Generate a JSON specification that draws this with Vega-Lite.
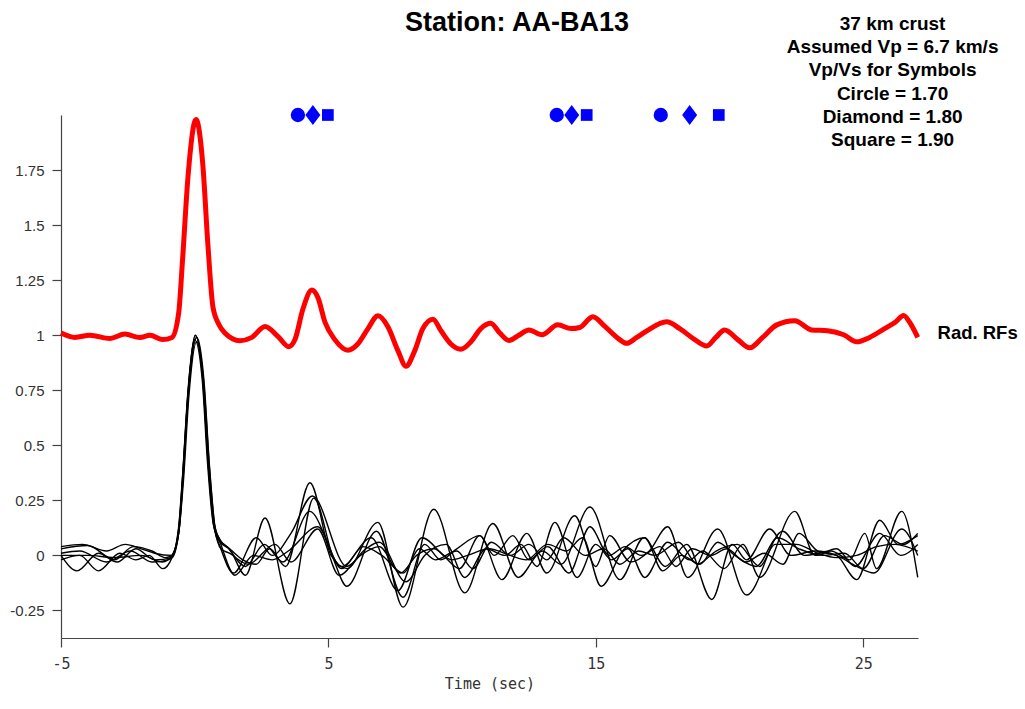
{
  "$schema": "https://vega.github.io/schema/vega-lite/v6.json",
  "width": 857,
  "height": 523,
  "autosize": {"type": "none"},
  "padding": {"left": 61, "top": 115, "right": 107, "bottom": 71},
  "background": "white",
  "config": {"view": {"stroke": null}},
  "datasets": {
    "red": [
      {"t": -5, "v": 1.01}, {"t": -4.48, "v": 0.99}, {"t": -3.92, "v": 1.0}, {"t": -3.17, "v": 0.985},
      {"t": -2.61, "v": 1.005}, {"t": -2.05, "v": 0.99}, {"t": -1.67, "v": 1.0}, {"t": -1.19, "v": 0.98},
      {"t": -0.85, "v": 0.99}, {"t": -0.6, "v": 1.1}, {"t": -0.45, "v": 1.35}, {"t": -0.25, "v": 1.72},
      {"t": 0.05, "v": 1.98}, {"t": 0.3, "v": 1.78}, {"t": 0.5, "v": 1.4}, {"t": 0.68, "v": 1.13},
      {"t": 0.9, "v": 1.05}, {"t": 1.13, "v": 1.01}, {"t": 1.69, "v": 0.975}, {"t": 2.14, "v": 0.99},
      {"t": 2.63, "v": 1.04}, {"t": 3.11, "v": 0.995}, {"t": 3.52, "v": 0.948}, {"t": 3.75, "v": 0.98},
      {"t": 4.05, "v": 1.12}, {"t": 4.38, "v": 1.205}, {"t": 4.61, "v": 1.17}, {"t": 4.87, "v": 1.06},
      {"t": 5.24, "v": 0.98}, {"t": 5.73, "v": 0.932}, {"t": 6.1, "v": 0.96}, {"t": 6.48, "v": 1.03},
      {"t": 6.85, "v": 1.088}, {"t": 7.22, "v": 1.04}, {"t": 7.6, "v": 0.93}, {"t": 7.9, "v": 0.859},
      {"t": 8.23, "v": 0.93}, {"t": 8.53, "v": 1.03}, {"t": 8.91, "v": 1.073}, {"t": 9.21, "v": 1.02},
      {"t": 9.58, "v": 0.96}, {"t": 9.95, "v": 0.936}, {"t": 10.33, "v": 0.97}, {"t": 10.7, "v": 1.03},
      {"t": 11.07, "v": 1.054}, {"t": 11.41, "v": 1.01}, {"t": 11.75, "v": 0.976}, {"t": 12.12, "v": 1.0},
      {"t": 12.5, "v": 1.024}, {"t": 12.98, "v": 1.002}, {"t": 13.58, "v": 1.047}, {"t": 14.07, "v": 1.03},
      {"t": 14.4, "v": 1.035}, {"t": 14.89, "v": 1.084}, {"t": 15.34, "v": 1.04}, {"t": 15.79, "v": 0.99},
      {"t": 16.16, "v": 0.963}, {"t": 16.53, "v": 0.99}, {"t": 16.91, "v": 1.02}, {"t": 17.65, "v": 1.061},
      {"t": 18.14, "v": 1.03}, {"t": 18.7, "v": 0.98}, {"t": 19.15, "v": 0.951}, {"t": 19.49, "v": 0.99},
      {"t": 19.82, "v": 1.024}, {"t": 20.31, "v": 0.98}, {"t": 20.76, "v": 0.943}, {"t": 21.24, "v": 0.99},
      {"t": 21.77, "v": 1.047}, {"t": 22.44, "v": 1.066}, {"t": 23.07, "v": 1.024}, {"t": 23.67, "v": 1.02},
      {"t": 24.27, "v": 1.002}, {"t": 24.76, "v": 0.97}, {"t": 25.24, "v": 0.99}, {"t": 25.8, "v": 1.03},
      {"t": 26.21, "v": 1.06}, {"t": 26.51, "v": 1.09}, {"t": 26.78, "v": 1.05}, {"t": 27.04, "v": 0.99}
    ],
    "black": [
      {"trace": "A", "t": -5, "v": 0.04}, {"trace": "A", "t": -4.2, "v": 0.05}, {"trace": "A", "t": -3.3, "v": 0.02},
      {"trace": "A", "t": -2.6, "v": 0.05}, {"trace": "A", "t": -2.0, "v": 0.03}, {"trace": "A", "t": -1.5, "v": 0.01},
      {"trace": "A", "t": -0.85, "v": 0.0}, {"trace": "A", "t": -0.6, "v": 0.12}, {"trace": "A", "t": -0.45, "v": 0.36},
      {"trace": "A", "t": -0.25, "v": 0.74}, {"trace": "A", "t": 0.03, "v": 1.0}, {"trace": "A", "t": 0.3, "v": 0.8},
      {"trace": "A", "t": 0.5, "v": 0.42}, {"trace": "A", "t": 0.72, "v": 0.13}, {"trace": "A", "t": 0.95, "v": 0.06},
      {"trace": "A", "t": 1.3, "v": 0.03}, {"trace": "A", "t": 1.8, "v": -0.02}, {"trace": "A", "t": 2.3, "v": -0.04},
      {"trace": "A", "t": 2.8, "v": 0.03}, {"trace": "A", "t": 3.4, "v": -0.05}, {"trace": "A", "t": 4.31, "v": 0.33},
      {"trace": "A", "t": 5.1, "v": 0.0}, {"trace": "A", "t": 5.7, "v": -0.06}, {"trace": "A", "t": 6.85, "v": 0.15},
      {"trace": "A", "t": 7.79, "v": -0.235}, {"trace": "A", "t": 8.94, "v": 0.21}, {"trace": "A", "t": 10.1, "v": -0.17},
      {"trace": "A", "t": 11.15, "v": 0.145}, {"trace": "A", "t": 12.1, "v": -0.1}, {"trace": "A", "t": 13.0, "v": 0.02},
      {"trace": "A", "t": 13.7, "v": -0.04}, {"trace": "A", "t": 14.78, "v": 0.22}, {"trace": "A", "t": 15.9, "v": -0.11},
      {"trace": "A", "t": 16.8, "v": 0.08}, {"trace": "A", "t": 17.6, "v": -0.05}, {"trace": "A", "t": 18.4, "v": 0.05},
      {"trace": "A", "t": 19.34, "v": -0.2}, {"trace": "A", "t": 20.1, "v": 0.05}, {"trace": "A", "t": 20.64, "v": -0.02},
      {"trace": "A", "t": 21.5, "v": 0.12}, {"trace": "A", "t": 22.3, "v": 0.0}, {"trace": "A", "t": 23.2, "v": 0.02},
      {"trace": "A", "t": 24.0, "v": 0.0}, {"trace": "A", "t": 24.76, "v": -0.11}, {"trace": "A", "t": 25.62, "v": 0.16},
      {"trace": "A", "t": 26.3, "v": 0.05}, {"trace": "A", "t": 27.04, "v": 0.09},

      {"trace": "B", "t": -5, "v": 0.0}, {"trace": "B", "t": -4.4, "v": -0.07}, {"trace": "B", "t": -3.6, "v": 0.01},
      {"trace": "B", "t": -2.9, "v": -0.03}, {"trace": "B", "t": -2.2, "v": 0.03}, {"trace": "B", "t": -1.5, "v": -0.02},
      {"trace": "B", "t": -0.85, "v": -0.01}, {"trace": "B", "t": -0.6, "v": 0.1}, {"trace": "B", "t": -0.45, "v": 0.33},
      {"trace": "B", "t": -0.25, "v": 0.72}, {"trace": "B", "t": 0.0, "v": 0.98}, {"trace": "B", "t": 0.28, "v": 0.8},
      {"trace": "B", "t": 0.48, "v": 0.42}, {"trace": "B", "t": 0.7, "v": 0.14}, {"trace": "B", "t": 0.95, "v": 0.07},
      {"trace": "B", "t": 1.3, "v": 0.03}, {"trace": "B", "t": 1.9, "v": -0.09}, {"trace": "B", "t": 2.63, "v": 0.17},
      {"trace": "B", "t": 3.56, "v": -0.22}, {"trace": "B", "t": 4.45, "v": 0.26}, {"trace": "B", "t": 5.2, "v": -0.02},
      {"trace": "B", "t": 5.69, "v": -0.14}, {"trace": "B", "t": 6.8, "v": 0.11}, {"trace": "B", "t": 7.79, "v": -0.19},
      {"trace": "B", "t": 8.6, "v": 0.05}, {"trace": "B", "t": 9.2, "v": -0.02}, {"trace": "B", "t": 9.8, "v": 0.03},
      {"trace": "B", "t": 10.66, "v": 0.09}, {"trace": "B", "t": 11.49, "v": -0.11}, {"trace": "B", "t": 12.42, "v": 0.1},
      {"trace": "B", "t": 13.17, "v": -0.08}, {"trace": "B", "t": 14.21, "v": 0.18}, {"trace": "B", "t": 15.0, "v": -0.05},
      {"trace": "B", "t": 15.52, "v": 0.09}, {"trace": "B", "t": 16.3, "v": -0.03}, {"trace": "B", "t": 17.0, "v": 0.02},
      {"trace": "B", "t": 17.69, "v": 0.13}, {"trace": "B", "t": 18.44, "v": -0.1}, {"trace": "B", "t": 19.56, "v": 0.12},
      {"trace": "B", "t": 20.64, "v": -0.18}, {"trace": "B", "t": 21.99, "v": 0.11}, {"trace": "B", "t": 22.8, "v": 0.0},
      {"trace": "B", "t": 23.8, "v": 0.02}, {"trace": "B", "t": 24.5, "v": -0.02}, {"trace": "B", "t": 25.06, "v": 0.1},
      {"trace": "B", "t": 25.5, "v": -0.06}, {"trace": "B", "t": 26.44, "v": 0.2}, {"trace": "B", "t": 27.04, "v": -0.1},

      {"trace": "C", "t": -5, "v": -0.02}, {"trace": "C", "t": -4.3, "v": 0.0}, {"trace": "C", "t": -3.6, "v": -0.07},
      {"trace": "C", "t": -2.8, "v": 0.01}, {"trace": "C", "t": -2.2, "v": -0.02}, {"trace": "C", "t": -1.7, "v": 0.0},
      {"trace": "C", "t": -1.19, "v": -0.06}, {"trace": "C", "t": -0.85, "v": -0.01}, {"trace": "C", "t": -0.6, "v": 0.11},
      {"trace": "C", "t": -0.45, "v": 0.35}, {"trace": "C", "t": -0.25, "v": 0.73}, {"trace": "C", "t": 0.06, "v": 0.99},
      {"trace": "C", "t": 0.32, "v": 0.79}, {"trace": "C", "t": 0.52, "v": 0.41}, {"trace": "C", "t": 0.74, "v": 0.12},
      {"trace": "C", "t": 0.95, "v": 0.04}, {"trace": "C", "t": 1.45, "v": -0.08}, {"trace": "C", "t": 2.3, "v": 0.08},
      {"trace": "C", "t": 2.9, "v": 0.0}, {"trace": "C", "t": 3.6, "v": 0.1}, {"trace": "C", "t": 4.4, "v": 0.27},
      {"trace": "C", "t": 5.69, "v": -0.05}, {"trace": "C", "t": 6.4, "v": 0.03}, {"trace": "C", "t": 6.9, "v": 0.06},
      {"trace": "C", "t": 7.9, "v": -0.12}, {"trace": "C", "t": 8.6, "v": 0.0}, {"trace": "C", "t": 9.4, "v": 0.05},
      {"trace": "C", "t": 10.1, "v": -0.1}, {"trace": "C", "t": 10.9, "v": 0.03}, {"trace": "C", "t": 11.6, "v": 0.0},
      {"trace": "C", "t": 12.2, "v": 0.05}, {"trace": "C", "t": 12.8, "v": -0.05}, {"trace": "C", "t": 13.47, "v": 0.15},
      {"trace": "C", "t": 14.3, "v": -0.1}, {"trace": "C", "t": 15.0, "v": 0.05}, {"trace": "C", "t": 15.6, "v": -0.02},
      {"trace": "C", "t": 16.2, "v": 0.03}, {"trace": "C", "t": 16.83, "v": -0.1}, {"trace": "C", "t": 17.69, "v": 0.06},
      {"trace": "C", "t": 18.5, "v": -0.02}, {"trace": "C", "t": 19.0, "v": 0.02}, {"trace": "C", "t": 19.8, "v": -0.06},
      {"trace": "C", "t": 20.5, "v": 0.05}, {"trace": "C", "t": 21.13, "v": -0.1}, {"trace": "C", "t": 22.44, "v": 0.2},
      {"trace": "C", "t": 23.2, "v": 0.0}, {"trace": "C", "t": 24.0, "v": 0.03}, {"trace": "C", "t": 24.7, "v": -0.05},
      {"trace": "C", "t": 25.62, "v": 0.1}, {"trace": "C", "t": 26.4, "v": 0.0}, {"trace": "C", "t": 27.04, "v": 0.05},

      {"trace": "D", "t": -5, "v": 0.03}, {"trace": "D", "t": -4.0, "v": 0.045}, {"trace": "D", "t": -3.0, "v": -0.02},
      {"trace": "D", "t": -2.3, "v": 0.04}, {"trace": "D", "t": -1.6, "v": 0.02}, {"trace": "D", "t": -1.1, "v": -0.01},
      {"trace": "D", "t": -0.85, "v": 0.0}, {"trace": "D", "t": -0.6, "v": 0.13}, {"trace": "D", "t": -0.45, "v": 0.37},
      {"trace": "D", "t": -0.25, "v": 0.75}, {"trace": "D", "t": 0.02, "v": 1.0}, {"trace": "D", "t": 0.3, "v": 0.81},
      {"trace": "D", "t": 0.5, "v": 0.43}, {"trace": "D", "t": 0.72, "v": 0.15}, {"trace": "D", "t": 0.95, "v": 0.07},
      {"trace": "D", "t": 1.2, "v": 0.04}, {"trace": "D", "t": 1.9, "v": -0.05}, {"trace": "D", "t": 2.6, "v": 0.05},
      {"trace": "D", "t": 3.3, "v": -0.03}, {"trace": "D", "t": 4.3, "v": 0.2}, {"trace": "D", "t": 5.5, "v": -0.05},
      {"trace": "D", "t": 6.6, "v": 0.08}, {"trace": "D", "t": 7.6, "v": -0.16}, {"trace": "D", "t": 8.5, "v": 0.08},
      {"trace": "D", "t": 9.3, "v": 0.0}, {"trace": "D", "t": 9.9, "v": -0.06}, {"trace": "D", "t": 10.66, "v": 0.09},
      {"trace": "D", "t": 11.2, "v": 0.0}, {"trace": "D", "t": 11.9, "v": 0.09}, {"trace": "D", "t": 12.5, "v": -0.02},
      {"trace": "D", "t": 13.2, "v": 0.04}, {"trace": "D", "t": 14.0, "v": -0.08}, {"trace": "D", "t": 14.78, "v": 0.13},
      {"trace": "D", "t": 15.5, "v": 0.0}, {"trace": "D", "t": 16.1, "v": 0.04}, {"trace": "D", "t": 16.7, "v": 0.0},
      {"trace": "D", "t": 17.4, "v": 0.04}, {"trace": "D", "t": 18.0, "v": -0.05}, {"trace": "D", "t": 18.6, "v": 0.03},
      {"trace": "D", "t": 19.3, "v": 0.0}, {"trace": "D", "t": 19.9, "v": 0.03}, {"trace": "D", "t": 20.6, "v": -0.03},
      {"trace": "D", "t": 21.3, "v": 0.01}, {"trace": "D", "t": 22.0, "v": -0.04}, {"trace": "D", "t": 22.6, "v": 0.1},
      {"trace": "D", "t": 23.3, "v": 0.02}, {"trace": "D", "t": 24.0, "v": 0.0}, {"trace": "D", "t": 24.76, "v": -0.05},
      {"trace": "D", "t": 25.4, "v": -0.08}, {"trace": "D", "t": 26.44, "v": 0.12}, {"trace": "D", "t": 27.04, "v": 0.0},

      {"trace": "E", "t": -5, "v": 0.0}, {"trace": "E", "t": -4.0, "v": 0.0}, {"trace": "E", "t": -3.0, "v": -0.01},
      {"trace": "E", "t": -2.0, "v": 0.0}, {"trace": "E", "t": -1.2, "v": -0.03}, {"trace": "E", "t": -0.85, "v": 0.0},
      {"trace": "E", "t": -0.6, "v": 0.1}, {"trace": "E", "t": -0.42, "v": 0.34}, {"trace": "E", "t": -0.22, "v": 0.72},
      {"trace": "E", "t": 0.07, "v": 0.97}, {"trace": "E", "t": 0.34, "v": 0.78}, {"trace": "E", "t": 0.55, "v": 0.4},
      {"trace": "E", "t": 0.76, "v": 0.12}, {"trace": "E", "t": 0.98, "v": 0.03}, {"trace": "E", "t": 1.3, "v": 0.01},
      {"trace": "E", "t": 2.0, "v": -0.04}, {"trace": "E", "t": 3.0, "v": 0.05}, {"trace": "E", "t": 3.6, "v": -0.03},
      {"trace": "E", "t": 4.6, "v": 0.12}, {"trace": "E", "t": 5.4, "v": -0.09}, {"trace": "E", "t": 6.2, "v": 0.0},
      {"trace": "E", "t": 6.9, "v": 0.04}, {"trace": "E", "t": 7.7, "v": -0.08}, {"trace": "E", "t": 8.3, "v": 0.0},
      {"trace": "E", "t": 8.94, "v": 0.03}, {"trace": "E", "t": 9.6, "v": -0.02}, {"trace": "E", "t": 10.2, "v": 0.0},
      {"trace": "E", "t": 11.0, "v": 0.03}, {"trace": "E", "t": 11.8, "v": 0.0}, {"trace": "E", "t": 12.4, "v": -0.02},
      {"trace": "E", "t": 13.2, "v": 0.05}, {"trace": "E", "t": 13.9, "v": 0.02}, {"trace": "E", "t": 14.5, "v": 0.08},
      {"trace": "E", "t": 15.2, "v": -0.14}, {"trace": "E", "t": 16.0, "v": 0.02}, {"trace": "E", "t": 16.83, "v": 0.08},
      {"trace": "E", "t": 17.5, "v": -0.07}, {"trace": "E", "t": 18.2, "v": 0.0}, {"trace": "E", "t": 18.9, "v": -0.04},
      {"trace": "E", "t": 19.56, "v": 0.06}, {"trace": "E", "t": 20.2, "v": 0.0}, {"trace": "E", "t": 21.0, "v": -0.05},
      {"trace": "E", "t": 21.8, "v": 0.08}, {"trace": "E", "t": 22.6, "v": 0.03}, {"trace": "E", "t": 23.5, "v": 0.0},
      {"trace": "E", "t": 24.3, "v": 0.01}, {"trace": "E", "t": 25.0, "v": -0.06}, {"trace": "E", "t": 25.8, "v": 0.09},
      {"trace": "E", "t": 26.5, "v": 0.05}, {"trace": "E", "t": 27.04, "v": 0.1},

      {"trace": "F", "t": -5, "v": 0.01}, {"trace": "F", "t": -4.3, "v": 0.02}, {"trace": "F", "t": -3.3, "v": -0.03},
      {"trace": "F", "t": -2.4, "v": 0.02}, {"trace": "F", "t": -1.6, "v": -0.03}, {"trace": "F", "t": -1.0, "v": -0.02},
      {"trace": "F", "t": -0.85, "v": -0.01}, {"trace": "F", "t": -0.58, "v": 0.12}, {"trace": "F", "t": -0.43, "v": 0.36},
      {"trace": "F", "t": -0.23, "v": 0.74}, {"trace": "F", "t": 0.08, "v": 0.99}, {"trace": "F", "t": 0.35, "v": 0.79},
      {"trace": "F", "t": 0.55, "v": 0.41}, {"trace": "F", "t": 0.76, "v": 0.13}, {"trace": "F", "t": 0.98, "v": 0.05},
      {"trace": "F", "t": 1.5, "v": -0.09}, {"trace": "F", "t": 2.2, "v": 0.0}, {"trace": "F", "t": 2.9, "v": -0.02},
      {"trace": "F", "t": 3.5, "v": 0.02}, {"trace": "F", "t": 4.6, "v": 0.13}, {"trace": "F", "t": 5.5, "v": -0.06},
      {"trace": "F", "t": 6.3, "v": 0.04}, {"trace": "F", "t": 7.0, "v": 0.0}, {"trace": "F", "t": 7.8, "v": -0.08},
      {"trace": "F", "t": 8.4, "v": 0.03}, {"trace": "F", "t": 9.0, "v": -0.02}, {"trace": "F", "t": 9.8, "v": 0.02},
      {"trace": "F", "t": 10.4, "v": -0.06}, {"trace": "F", "t": 11.1, "v": 0.06}, {"trace": "F", "t": 11.8, "v": 0.0},
      {"trace": "F", "t": 12.5, "v": 0.05}, {"trace": "F", "t": 13.17, "v": -0.02}, {"trace": "F", "t": 13.8, "v": 0.08},
      {"trace": "F", "t": 14.6, "v": 0.0}, {"trace": "F", "t": 15.3, "v": 0.03}, {"trace": "F", "t": 15.9, "v": -0.04},
      {"trace": "F", "t": 16.6, "v": 0.02}, {"trace": "F", "t": 17.2, "v": 0.0}, {"trace": "F", "t": 18.1, "v": 0.06},
      {"trace": "F", "t": 18.8, "v": -0.04}, {"trace": "F", "t": 19.5, "v": 0.02}, {"trace": "F", "t": 20.3, "v": 0.05},
      {"trace": "F", "t": 21.13, "v": -0.05}, {"trace": "F", "t": 21.7, "v": 0.05}, {"trace": "F", "t": 22.5, "v": 0.05},
      {"trace": "F", "t": 23.3, "v": 0.01}, {"trace": "F", "t": 24.0, "v": -0.01}, {"trace": "F", "t": 24.76, "v": 0.0},
      {"trace": "F", "t": 25.5, "v": 0.04}, {"trace": "F", "t": 26.2, "v": 0.05}, {"trace": "F", "t": 27.04, "v": 0.02}
    ],
    "symbols": [
      {"vpvs": "1.70", "t": 3.86, "v": 2.0}, {"vpvs": "1.80", "t": 4.42, "v": 2.0}, {"vpvs": "1.90", "t": 4.98, "v": 2.0},
      {"vpvs": "1.70", "t": 13.54, "v": 2.0}, {"vpvs": "1.80", "t": 14.1, "v": 2.0}, {"vpvs": "1.90", "t": 14.66, "v": 2.0},
      {"vpvs": "1.70", "t": 17.43, "v": 2.0}, {"vpvs": "1.80", "t": 18.51, "v": 2.0}, {"vpvs": "1.90", "t": 19.6, "v": 2.0}
    ],
    "notes": [
      {"lines": ["37 km crust", "Assumed Vp = 6.7 km/s", "Vp/Vs for Symbols", "Circle = 1.70", "Diamond = 1.80", "Square = 1.90"]}
    ],
    "series": [
      {"name": "Rad. RFs"}
    ],
    "heading": [
      {"station": "Station: AA-BA13"}
    ]
  },
  "layer": [
    {
      "data": {"name": "black"},
      "mark": {"type": "line", "color": "black", "strokeWidth": 1.4, "interpolate": "monotone"},
      "encoding": {
        "x": {
          "field": "t",
          "type": "quantitative",
          "scale": {"domain": [-5, 27.05], "nice": false, "zero": false},
          "axis": {
            "values": [-5, 5, 15, 25],
            "format": ".2~f",
            "labelExpr": "replace(datum.label, '−', '-')",
            "title": "Time (sec)",
            "grid": false,
            "domainColor": "#444",
            "domainWidth": 1.2,
            "tickColor": "#444",
            "tickWidth": 1.2,
            "tickSize": 9,
            "labelFont": "DejaVu Sans Mono",
            "labelFontSize": 15,
            "labelColor": "#333",
            "labelPadding": 9,
            "labelFlush": false,
            "titleFont": "DejaVu Sans Mono",
            "titleFontSize": 15,
            "titleFontWeight": "normal",
            "titleColor": "#333",
            "titlePadding": 5
          }
        },
        "y": {
          "field": "v",
          "type": "quantitative",
          "scale": {"domain": [-0.375, 2.0], "nice": false, "zero": false},
          "axis": {
            "values": [-0.25, 0, 0.25, 0.5, 0.75, 1, 1.25, 1.5, 1.75],
            "format": ".2~f",
            "labelExpr": "replace(datum.label, '−', '-')",
            "title": null,
            "grid": false,
            "domainColor": "#444",
            "domainWidth": 1.2,
            "tickColor": "#444",
            "tickWidth": 1.2,
            "tickSize": 9,
            "labelFont": "Liberation Sans",
            "labelFontSize": 15,
            "labelColor": "#333",
            "labelPadding": 8
          }
        },
        "detail": {"field": "trace", "type": "nominal"}
      }
    },
    {
      "data": {"name": "red"},
      "mark": {"type": "line", "color": "#ff0000", "strokeWidth": 5, "interpolate": "monotone", "strokeJoin": "round"},
      "encoding": {
        "x": {"field": "t", "type": "quantitative"},
        "y": {"field": "v", "type": "quantitative"}
      }
    },
    {
      "data": {"name": "symbols"},
      "mark": {"type": "point", "filled": true, "opacity": 1, "size": 204, "color": "#0000ff"},
      "encoding": {
        "x": {"field": "t", "type": "quantitative"},
        "y": {"field": "v", "type": "quantitative"},
        "shape": {
          "field": "vpvs",
          "type": "nominal",
          "scale": {
            "domain": ["1.70", "1.80", "1.90"],
            "range": ["circle", "M0,-1.4L1.05,0L0,1.4L-1.05,0Z", "M-0.82,-0.82L0.82,-0.82L0.82,0.82L-0.82,0.82Z"]
          },
          "legend": null
        }
      }
    },
    {
      "data": {"name": "notes"},
      "mark": {
        "type": "text",
        "font": "Liberation Sans",
        "fontSize": 19,
        "fontWeight": "bold",
        "color": "black",
        "align": "center",
        "baseline": "middle",
        "lineHeight": 23.2
      },
      "encoding": {
        "x": {"datum": 26.1, "type": "quantitative"},
        "y": {"datum": 2.4136, "type": "quantitative"},
        "text": {"field": "lines"}
      }
    },
    {
      "data": {"name": "series"},
      "mark": {
        "type": "text",
        "font": "Liberation Sans",
        "fontSize": 18.5,
        "fontWeight": "bold",
        "color": "black",
        "align": "left",
        "baseline": "middle"
      },
      "encoding": {
        "x": {"datum": 27.78, "type": "quantitative"},
        "y": {"datum": 1.01, "type": "quantitative"},
        "text": {"field": "name"}
      }
    },
    {
      "data": {"name": "heading"},
      "mark": {
        "type": "text",
        "font": "Liberation Sans",
        "fontSize": 27,
        "fontWeight": "bold",
        "color": "black",
        "align": "center",
        "baseline": "middle"
      },
      "encoding": {
        "x": {"datum": 12.05, "type": "quantitative"},
        "y": {"datum": 2.418, "type": "quantitative"},
        "text": {"field": "station"}
      }
    }
  ]
}
